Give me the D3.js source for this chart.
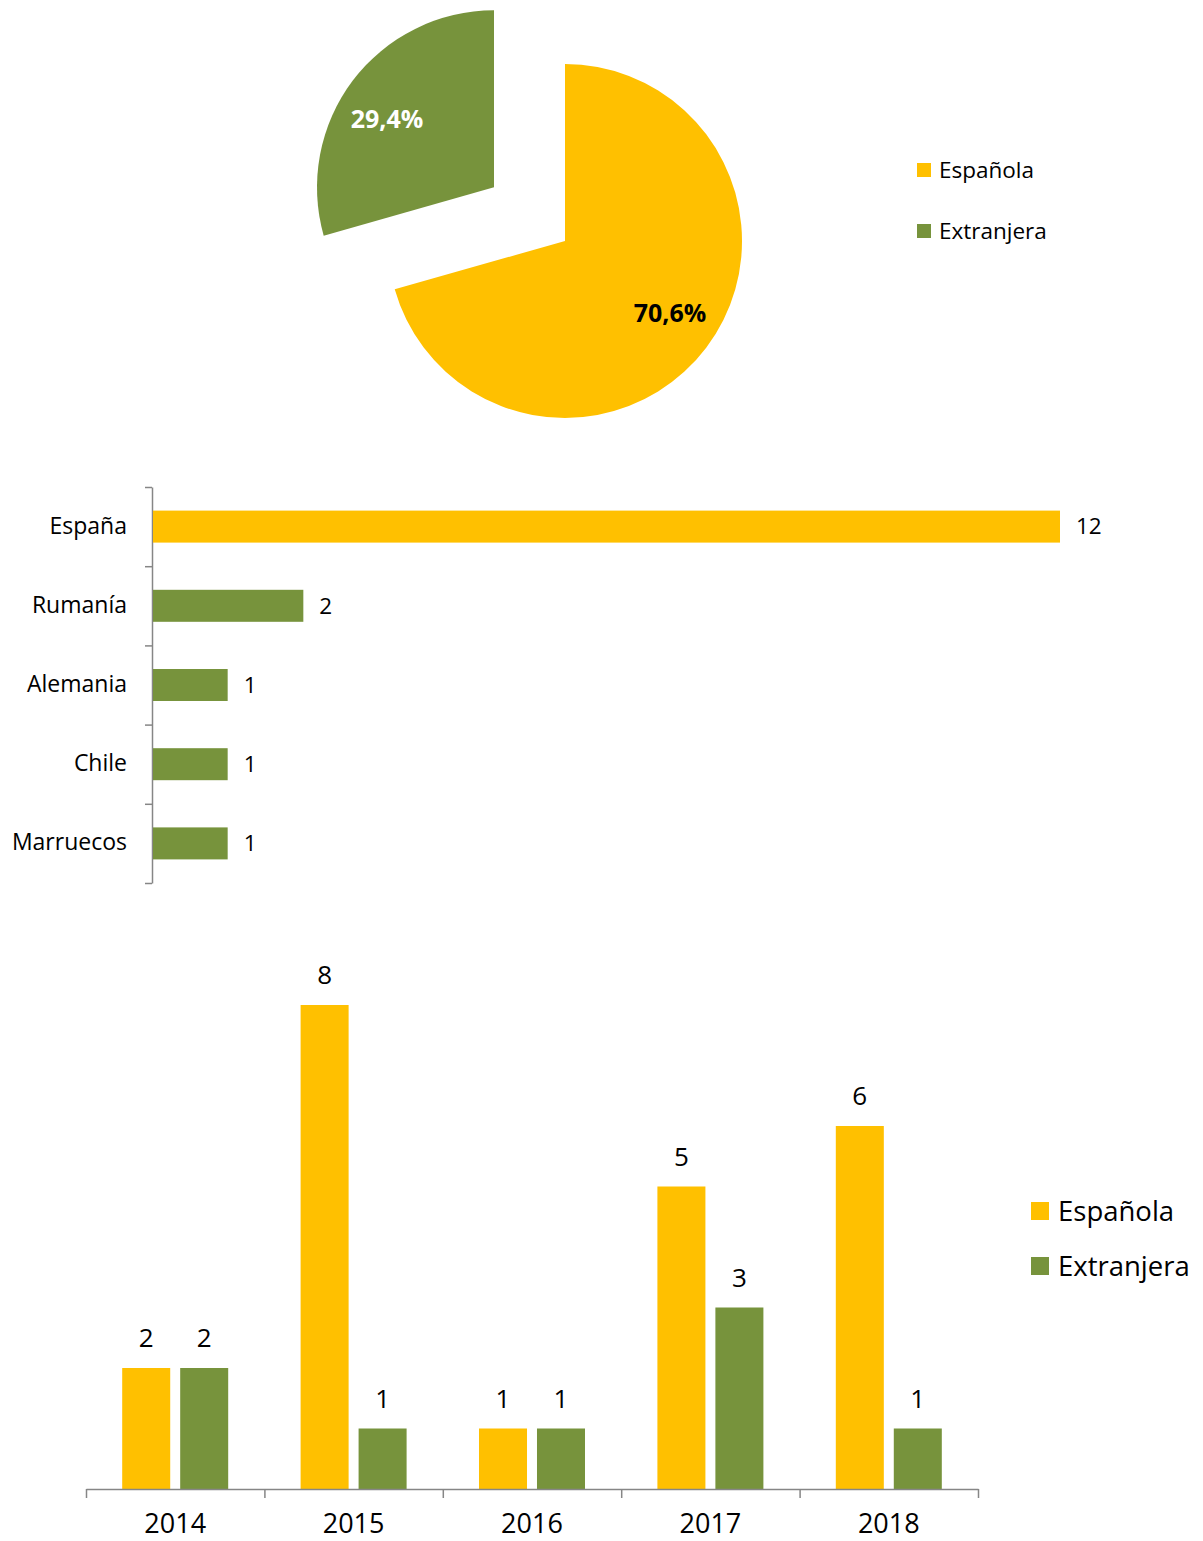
<!DOCTYPE html>
<html>
<head>
<meta charset="utf-8">
<script src="https://cdn.jsdelivr.net/npm/d3@7"></script>
<style>
  body { margin: 0; background: #fff; }
  svg text { font-family: "Open Sans", "Noto Sans", sans-serif; fill: #000; }
  .axis path, .axis line { stroke: #868686; stroke-width: 1.5; }
</style>
</head>
<body>
<svg id="chart" width="1203" height="1541"></svg>
<script>
// data
var pieLabels = ["Española", "Extranjera"];
var pieValues = [70.6, 29.4];

var countries = ["España", "Rumanía", "Alemania", "Chile", "Marruecos"];
var countryValues = [12, 2, 1, 1, 1];
var countryGroup = ["Española", "Extranjera", "Extranjera", "Extranjera", "Extranjera"];

var years = ["2014", "2015", "2016", "2017", "2018"];
var espanola = [2, 8, 1, 5, 6];
var extranjera = [2, 1, 1, 3, 1];

var colors = d3.scaleOrdinal().domain(pieLabels).range(["#FFC000", "#77933C"]);

var svg = d3.select("#chart");

// ---------- pie ----------
var pieG = svg.append("g").attr("transform", "translate(565,241)");
var pie = d3.pie().sort(null).value(function(d) { return d.v; });
var arcs = pie(pieLabels.map(function(l, i) { return {label: l, v: pieValues[i]}; }));
var r = 177;
var arc = d3.arc().innerRadius(0).outerRadius(r);
var explode = [0, 89];
var labelPos = [[105, 72], [-178, -122]];

var slice = pieG.selectAll("g.slice").data(arcs).enter().append("g")
  .attr("class", "slice")
  .attr("transform", function(d, i) {
    var a = (d.startAngle + d.endAngle) / 2;
    return "translate(" + (Math.sin(a) * explode[i]) + "," + (-Math.cos(a) * explode[i]) + ")";
  });
slice.append("path")
  .attr("d", arc)
  .attr("fill", function(d) { return colors(d.data.label); });

pieG.selectAll("text.pct").data(arcs).enter().append("text")
  .attr("class", "pct")
  .attr("x", function(d, i) { return labelPos[i][0]; })
  .attr("y", function(d, i) { return labelPos[i][1]; })
  .attr("text-anchor", "middle")
  .attr("dy", "0.35em")
  .style("font-size", "25px")
  .style("font-weight", "bold")
  .style("fill", function(d, i) { return i == 0 ? "#000" : "#fff"; })
  .text(function(d) { return d.data.v.toFixed(1).replace(".", ",") + "%"; });

var leg1 = svg.append("g").attr("transform", "translate(917,163)");
var li1 = leg1.selectAll("g").data(pieLabels).enter().append("g")
  .attr("transform", function(d, i) { return "translate(0," + (i * 61) + ")"; });
li1.append("rect").attr("width", 14).attr("height", 14).attr("fill", function(d) { return colors(d); });
li1.append("text").attr("x", 22).attr("y", 7).attr("dy", "0.35em")
  .style("font-size", "22.5px").text(function(d) { return d; });

// ---------- horizontal bars ----------
var hx = d3.scaleLinear().domain([0, 12]).range([152, 1060]);
var hy = d3.scaleBand().domain(countries).range([487, 883]).padding(0);
var hBar = 32;

svg.append("g")
  .attr("class", "axis")
  .attr("transform", "translate(152,0)")
  .call(d3.axisLeft(d3.scaleLinear().domain([0, countries.length]).range([487, 883]))
    .tickValues(d3.range(countries.length + 1)).tickSize(7).tickSizeOuter(0).tickFormat(""));

svg.selectAll("rect.hbar").data(countries).enter().append("rect")
  .attr("class", "hbar")
  .attr("x", hx(0) + 1)
  .attr("y", function(d) { return hy(d) + (hy.bandwidth() - hBar) / 2; })
  .attr("width", function(d, i) { return hx(countryValues[i]) - hx(0) - 1; })
  .attr("height", hBar)
  .attr("fill", function(d, i) { return colors(countryGroup[i]); });

svg.selectAll("text.hval").data(countries).enter().append("text")
  .attr("x", function(d, i) { return hx(countryValues[i]) + 16; })
  .attr("y", function(d) { return hy(d) + hy.bandwidth() / 2; })
  .attr("dy", "0.35em")
  .style("font-size", "22.5px")
  .text(function(d, i) { return countryValues[i]; });

svg.selectAll("text.hcat").data(countries).enter().append("text")
  .attr("x", 127)
  .attr("y", function(d) { return hy(d) + hy.bandwidth() / 2; })
  .attr("dy", "0.3em")
  .attr("text-anchor", "end")
  .style("font-size", "23px")
  .text(function(d) { return d; });

// ---------- grouped vertical bars ----------
var vx0 = d3.scaleBand().domain(years).range([86, 978]).padding(0);
var vx1 = d3.scaleBand().domain(pieLabels)
  .range([vx0.bandwidth() / 2 - 53, vx0.bandwidth() / 2 + 53]).paddingInner(0.172);
var vy = d3.scaleLinear().domain([0, 8]).range([1489, 1005]);

var groups = svg.selectAll("g.year").data(years).enter().append("g")
  .attr("transform", function(d) { return "translate(" + vx0(d) + ",0)"; });

var seriesVals = [espanola, extranjera];
groups.each(function(year, yi) {
  var g = d3.select(this);
  var rows = pieLabels.map(function(l, si) { return {s: l, v: seriesVals[si][yi]}; });
  g.selectAll("rect").data(rows).enter().append("rect")
    .attr("x", function(d) { return vx1(d.s); })
    .attr("y", function(d) { return vy(d.v); })
    .attr("width", vx1.bandwidth())
    .attr("height", function(d) { return vy(0) - vy(d.v); })
    .attr("fill", function(d) { return colors(d.s); });
  g.selectAll("text").data(rows).enter().append("text")
    .attr("x", function(d) { return vx1(d.s) + vx1.bandwidth() / 2; })
    .attr("y", function(d) { return vy(d.v) - 21; })
    .attr("text-anchor", "middle")
    .style("font-size", "26px")
    .text(function(d) { return d.v; });
});

svg.append("g")
  .attr("class", "axis")
  .attr("transform", "translate(0,1489)")
  .call(d3.axisBottom(d3.scaleLinear().domain([0, years.length]).range([86, 978]))
    .tickValues(d3.range(years.length + 1)).tickSize(9).tickSizeOuter(0).tickFormat(""));

// year labels sit right at the bottom edge
svg.selectAll("text.year").data(years).enter().append("text")
  .attr("x", function(d) { return vx0(d) + vx0.bandwidth() / 2; })
  .attr("y", 1533)
  .attr("text-anchor", "middle")
  .style("font-size", "27px")
  .text(function(d) { return d; });

var leg2 = svg.append("g").attr("transform", "translate(1031,1202)");
var li2 = leg2.selectAll("g").data(pieLabels).enter().append("g")
  .attr("transform", function(d, i) { return "translate(0," + (i * 55) + ")"; });
li2.append("rect").attr("width", 18).attr("height", 18).attr("fill", function(d) { return colors(d); });
li2.append("text").attr("x", 27).attr("y", 9).attr("dy", "0.35em")
  .style("font-size", "27.5px").text(function(d) { return d; });
</script>
</body>
</html>
